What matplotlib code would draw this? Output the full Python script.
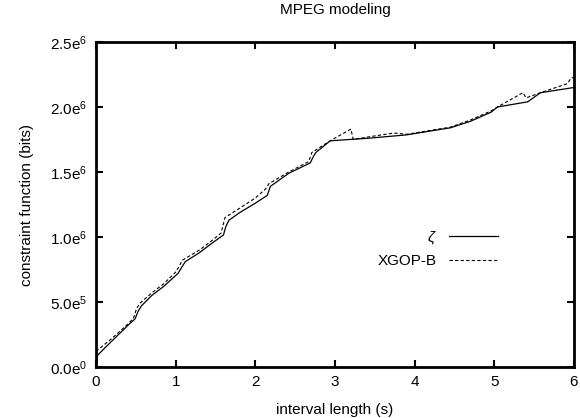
import matplotlib
matplotlib.use('Agg')
import matplotlib.pyplot as plt
import numpy as np

plt.rcParams['font.family'] = ['Liberation Sans', 'DejaVu Sans']
plt.rcParams['mathtext.fontset'] = 'custom'
plt.rcParams['mathtext.rm'] = 'Liberation Sans'
plt.rcParams['mathtext.it'] = 'Liberation Sans:italic'
plt.rcParams['mathtext.default'] = 'regular'

# data
zeta_x = [0, 0.02, 0.1, 0.2, 0.3, 0.4, 0.49, 0.53, 0.57, 0.7, 0.85, 1.03, 1.08, 1.12,
          1.3, 1.45, 1.6, 1.63, 1.67, 1.81, 2.0, 2.15, 2.19, 2.42, 2.69, 2.73, 2.76,
          2.94, 3.42, 3.89, 4.45, 4.7, 4.96, 5.04, 5.42, 5.58, 6.0]
zeta_y = [0, 0.9e5, 1.4e5, 2.0e5, 2.6e5, 3.2e5, 3.7e5, 4.3e5, 4.7e5, 5.5e5, 6.2e5,
          7.2e5, 7.7e5, 8.1e5, 8.8e5, 9.5e5, 1.015e6, 1.08e6, 1.13e6, 1.19e6, 1.26e6,
          1.32e6, 1.39e6, 1.49e6, 1.57e6, 1.62e6, 1.65e6, 1.74e6, 1.76e6, 1.785e6,
          1.84e6, 1.89e6, 1.96e6, 2.0e6, 2.04e6, 2.11e6, 2.15e6]

xgop_x = [0, 0.1, 0.2, 0.3, 0.4, 0.47, 0.51, 0.55, 0.7, 0.85, 1.0, 1.05, 1.08, 1.3,
          1.45, 1.57, 1.62, 1.8, 2.0, 2.13, 2.17, 2.42, 2.67, 2.71, 2.94, 3.2, 3.23,
          3.42, 3.74, 3.9, 4.45, 4.7, 4.96, 5.04, 5.36, 5.4, 5.58, 5.92, 5.96, 6.0]
xgop_y = [1.2e5, 1.7e5, 2.2e5, 2.75e5, 3.3e5, 3.75e5, 4.5e5, 4.9e5, 5.7e5, 6.4e5,
          7.3e5, 7.8e5, 8.2e5, 9.0e5, 9.7e5, 1.03e6, 1.15e6, 1.22e6, 1.3e6, 1.37e6,
          1.41e6, 1.5e6, 1.58e6, 1.65e6, 1.74e6, 1.83e6, 1.75e6, 1.77e6, 1.8e6,
          1.79e6, 1.845e6, 1.9e6, 1.97e6, 2.0e6, 2.11e6, 2.07e6, 2.11e6, 2.18e6,
          2.22e6, 2.23e6]

xticks = [0, 1, 2, 3, 4, 5, 6]
yticks = [0, 5e5, 1e6, 1.5e6, 2e6, 2.5e6]
ytick_labels = ['0.0e$^{0}$', '5.0e$^{5}$', '1.0e$^{6}$', '1.5e$^{6}$', '2.0e$^{6}$', '2.5e$^{6}$']

fs = 11
fig = plt.figure(figsize=(5.8, 4.18), dpi=100)
ax = fig.add_axes([0.1655, 0.122, 0.824, 0.7775])

ax.plot(zeta_x, zeta_y, color='black', linewidth=0.9, label=r'$\it{\zeta}$')
ax.plot(xgop_x, xgop_y, color='black', linewidth=0.8, linestyle=(0, (3, 2)), label='XGOP-B')

ax.set_xlim(0, 6)
ax.set_ylim(0, 2.5e6)
ax.set_xticks(xticks)
ax.set_xticklabels([str(t) for t in xticks])
ax.set_yticks(yticks)
ax.set_yticklabels(ytick_labels)
ax.tick_params(direction='in', top=True, right=True, length=5, width=1.5, labelsize=fs, pad=6)
for sp in ax.spines.values():
    sp.set_linewidth(2)

ax.set_xlabel('interval length (s)', fontsize=fs, labelpad=10)
ax.set_ylabel('constraint function (bits)', fontsize=fs, labelpad=12)
ax.set_title('MPEG modeling', fontsize=fs, pad=20)

ax.legend(loc='center right', bbox_to_anchor=(0.87, 0.365), frameon=False, markerfirst=False,
          fontsize=fs, handlelength=3.2, labelspacing=0.55)

fig.savefig('out.png', dpi=100)
